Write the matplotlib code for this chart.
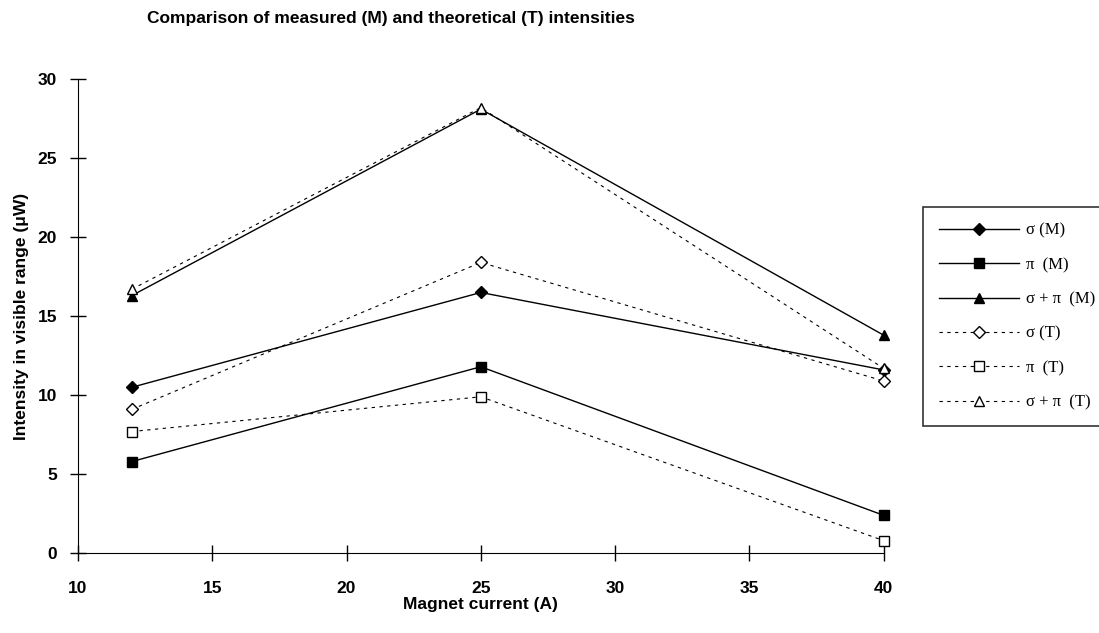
import matplotlib.pyplot as plt
from matplotlib.lines import Line2D

current = [12, 25, 40]
sigma_m = [10.5, 16.5, 11.6]
pi_m = [5.8, 11.8, 2.4]
sigpi_m = [16.3, 28.1, 13.8]
sigma_t = [9.1, 18.4, 10.9]
pi_t = [7.7, 9.9, 0.8]
sigpi_t = [16.7, 28.2, 11.7]

labels = ["σ (M)", "π  (M)", "σ + π  (M)", "σ (T)", "π  (T)", "σ + π  (T)"]

fig = plt.figure(figsize=(10.99, 6.33), dpi=100)
ax = fig.add_axes([0.071, 0.126, 0.733, 0.749])

solid = dict(color="k", lw=1, clip_on=False)
dash = dict(color="k", lw=0.8, ls="--", dashes=(3, 4), clip_on=False)

# measured: solid, filled markers
ax.plot(current, sigma_m, marker="D", ms=6, mfc="black", **solid)
ax.plot(current, pi_m, marker="s", ms=7, mfc="black", **solid)
ax.plot(current, sigpi_m, marker="^", ms=7.5, mfc="black", **solid)
# theoretical: dashed, open markers
ax.plot(current, sigma_t, marker="D", ms=6, mfc="white", **dash)
ax.plot(current, pi_t, marker="s", ms=7, mfc="white", **dash)
ax.plot(current, sigpi_t, marker="^", ms=7.5, mfc="white", **dash)

ax.set_xlim(10, 40)
ax.set_ylim(0, 30)
ax.set_xticks([10, 15, 20, 25, 30, 35, 40])
ax.set_yticks([0, 5, 10, 15, 20, 25, 30])
for s in ["top", "right"]:
    ax.spines[s].set_visible(False)
ax.tick_params(direction="inout", length=12, width=1, labelsize=12.5)
for t in ax.get_xticklabels() + ax.get_yticklabels():
    t.set_fontfamily("Liberation Sans")
    t.set_fontweight("bold")
ax.tick_params(axis="y", pad=9)
ax.tick_params(axis="x", pad=14)

ax.set_xlabel("Magnet current (A)", fontsize=12.5, fontweight="bold", family="Liberation Sans", labelpad=1)
ax.set_ylabel("Intensity in visible range (μW)", fontsize=12.5, fontweight="bold", family="Liberation Sans", labelpad=6)
fig.suptitle("Comparison of measured (M) and theoretical (T) intensities", x=0.356, y=0.982,
             fontsize=12.5, fontweight="bold", family="Liberation Sans")

handles = [
    Line2D([], [], color="k", lw=1, marker="D", ms=6, mfc="black"),
    Line2D([], [], color="k", lw=1, marker="s", ms=7, mfc="black"),
    Line2D([], [], color="k", lw=1, marker="^", ms=7.5, mfc="black"),
    Line2D([], [], color="k", lw=0.8, ls="--", dashes=(3, 4), marker="D", ms=6, mfc="white"),
    Line2D([], [], color="k", lw=0.8, ls="--", dashes=(3, 4), marker="s", ms=7, mfc="white"),
    Line2D([], [], color="k", lw=0.8, ls="--", dashes=(3, 4), marker="^", ms=7.5, mfc="white"),
]
leg = fig.legend(handles, labels, loc="upper left", bbox_to_anchor=(0.84, 0.673),
                 frameon=True, fancybox=False, edgecolor="black", handlelength=4.8,
                 handletextpad=0.4, labelspacing=1.1, borderpad=0.95, borderaxespad=0,
                 prop={"family": "Liberation Serif", "size": 12})
leg.get_frame().set_linewidth(1.2)

fig.savefig("out.png", dpi=100)
